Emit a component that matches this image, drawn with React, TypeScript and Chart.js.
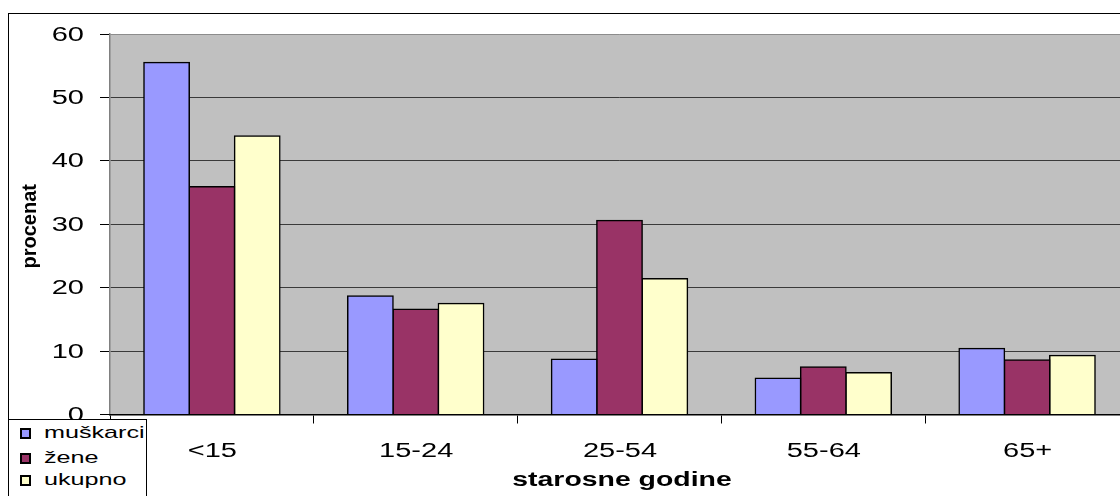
import { useEffect, useRef } from 'react';
import { Chart, registerables } from 'chart.js';

Chart.register(...registerables);

const categories = ['<15', '15-24', '25-54', '55-64', '65+'];
const seriesNames = ['muškarci', 'žene', 'ukupno'];
const muskarci = [55.5, 18.7, 8.7, 5.7, 10.4];
const zene = [35.9, 16.6, 30.6, 7.5, 8.6];
const ukupno = [43.9, 17.5, 21.4, 6.6, 9.3];
const yMin = 0;
const yMax = 60;
const yStep = 10;
const xTitle = 'starosne godine';
const yTitle = 'procenat';
const colors = ['#9999FF', '#993366', '#FFFFCC'];
const FONT = "Arial, 'Liberation Sans', sans-serif";
const STRETCH = 1.45;

function wideText(ctx: any, text: string, x: number, y: number, font: string, align: string, baseline: string, sx: number) {
  ctx.save();
  ctx.fillStyle = '#000';
  ctx.font = font;
  ctx.textAlign = align;
  ctx.textBaseline = baseline;
  ctx.translate(x, y);
  ctx.scale(sx, 1);
  ctx.fillText(text, 0, 0);
  ctx.restore();
}

const decor = {
  id: 'decor',
  beforeDraw(chart: any) {
    const { ctx, chartArea: a } = chart;
    ctx.save();
    ctx.fillStyle = '#C0C0C0';
    ctx.fillRect(a.left, a.top, a.right - a.left, a.bottom - a.top);
    ctx.restore();
  },
  afterDraw(chart: any) {
    const { ctx, chartArea: a } = chart;
    const xs = chart.scales.x;
    const ys = chart.scales.y;

    // x tick labels, from the category scale
    xs.ticks.forEach((t: any, i: number) => {
      const label = xs.getLabelForValue(t.value);
      wideText(ctx, label, xs.getPixelForTick(i) + 0.5, a.bottom + 37, `20px ${FONT}`, 'center', 'middle', STRETCH);
    });
    // y tick labels, from the linear scale
    ys.ticks.forEach((t: any, i: number) => {
      wideText(ctx, String(t.value), a.left - 26, ys.getPixelForTick(i) + 1, `20px ${FONT}`, 'right', 'middle', STRETCH);
    });

    // x title
    wideText(ctx, xTitle, (a.left + a.right) / 2 + 2.5, a.bottom + 71.5, `bold 20px ${FONT}`, 'center', 'alphabetic', 1.42);

    // y title
    ctx.save();
    ctx.fillStyle = '#000';
    ctx.font = `bold 20px ${FONT}`;
    ctx.textAlign = 'center';
    ctx.textBaseline = 'middle';
    ctx.translate(30, (a.top + a.bottom) / 2 + 2);
    ctx.rotate(-Math.PI / 2);
    ctx.fillText(yTitle, 0, 0);
    ctx.restore();
  },
};

export default function App() {
  const ref = useRef<HTMLCanvasElement>(null);

  useEffect(() => {
    const values = [muskarci, zene, ukupno];
    const chart = new Chart(ref.current as HTMLCanvasElement, {
      type: 'bar',
      data: {
        labels: categories,
        datasets: seriesNames.map((name, i) => ({
          label: name,
          data: values[i],
          backgroundColor: colors[i],
          borderColor: '#000',
          borderWidth: 1.5,
          inflateAmount: 0.75,
          categoryPercentage: 0.667,
          barPercentage: 1,
        })),
      },
      options: {
        responsive: false,
        animation: false,
        layout: { padding: { top: 34, right: 1, left: 0, bottom: 0 } },
        plugins: { legend: { display: false }, tooltip: { enabled: false } },
        scales: {
          x: {
            grid: {
              offset: true,
              drawOnChartArea: false,
              drawTicks: true,
              tickLength: 9,
              tickColor: '#000',
              lineWidth: 1,
            },
            border: { color: '#000', width: 1.5, z: 1 },
            ticks: {
              font: { family: FONT, size: 20 },
              color: 'rgba(0,0,0,0)',
              padding: 15.5,
              maxRotation: 0,
              autoSkip: false,
            },
            afterFit: (s: any) => {
              s.height = 81.5;
            },
          },
          y: {
            min: yMin,
            max: yMax,
            ticks: {
              stepSize: yStep,
              font: { family: FONT, size: 20 },
              color: 'rgba(0,0,0,0)',
              padding: 13,
            },
            grid: {
              color: (c: any) => (c.tick && c.tick.value === yMax ? '#8c8c8c' : '#3a3a3a'),
              lineWidth: 1,
              tickLength: 10,
              tickColor: '#000',
            },
            border: { color: '#808080', width: 1.5 },
            afterFit: (s: any) => {
              s.width = 110;
            },
          },
        },
      } as any,
      plugins: [decor],
    });
    return () => chart.destroy();
  }, []);

  const rowCenters = [14, 39.5, 61];

  return (
    <div
      style={{
        position: 'fixed',
        left: 0,
        top: 0,
        width: 1120,
        height: 496,
        overflow: 'hidden',
        background: '#fff',
      }}
    >
      <canvas
        ref={ref}
        width={1130}
        height={496}
        style={{ position: 'absolute', left: 0, top: 0, width: 1130, height: 496 }}
      />
      <div
        style={{
          position: 'absolute',
          left: 8,
          top: 13,
          width: 2000,
          height: 1000,
          borderTop: '1px solid #000',
          borderLeft: '1px solid #000',
          pointerEvents: 'none',
        }}
      />
      <div
        style={{
          position: 'absolute',
          left: 8,
          top: 419,
          width: 139,
          height: 100,
          border: '1px solid #000',
          background: '#fff',
          boxSizing: 'border-box',
          fontFamily: FONT,
        }}
      >
        {seriesNames.map((name, i) => (
          <div key={name}>
            <div
              style={{
                position: 'absolute',
                left: 11,
                top: rowCenters[i] - 5.5 - 1,
                width: 11,
                height: 11,
                boxSizing: 'border-box',
                border: '2px solid #000',
                background: colors[i],
              }}
            />
            <div
              style={{
                position: 'absolute',
                left: 35,
                top: rowCenters[i] - 11.5,
                height: 20,
                lineHeight: '20px',
                fontSize: 17,
                color: '#000',
                whiteSpace: 'nowrap',
                transform: 'scaleX(1.48)',
                transformOrigin: '0 0',
              }}
            >
              {name}
            </div>
          </div>
        ))}
      </div>
    </div>
  );
}
